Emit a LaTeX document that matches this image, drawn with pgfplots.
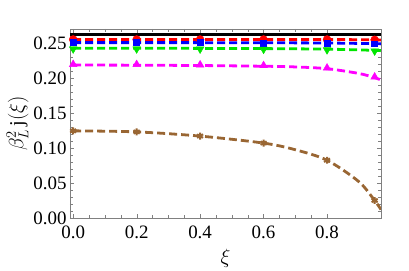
\documentclass[border=0pt]{standalone}
\usepackage{fontspec}
\setmainfont{Liberation Serif}
\usepackage{pgfplots}
\pgfplotsset{compat=1.18}
\usetikzlibrary{plotmarks}
\definecolor{mbrown}{rgb}{0.6,0.4,0.2}
\definecolor{mgreen}{rgb}{0,0.9,0}
\definecolor{mmag}{rgb}{1,0,1}
\definecolor{mred}{rgb}{1,0,0}
\definecolor{mblue}{rgb}{0,0,1}
\tikzset{dl/.style={line width=2.8pt, dash pattern=on 8bp off 4bp, smooth, no marks}}
\begin{document}
\begin{tikzpicture}
\begin{axis}[
  scale only axis, width=311bp, height=189bp,
  xmin=-0.01, xmax=0.97, ymin=0, ymax=0.27,
  axis line style={gray}, tick style={gray},
  tick align=inside, xtick={0,0.2,0.4,0.6,0.8}, ytick={0,0.05,0.1,0.15,0.2,0.25},
  minor x tick num=3, minor y tick num=4,
  xticklabel style={/pgf/number format/fixed,/pgf/number format/fixed zerofill,/pgf/number format/precision=1, yshift=-4bp},
  yticklabel style={/pgf/number format/fixed,/pgf/number format/fixed zerofill,/pgf/number format/precision=2},
  /pgf/number format/assume math mode=true,
  ticklabel style={font=\fontsize{19}{22}\selectfont},
  label style={font=\fontsize{20}{22}\selectfont},
  xlabel={$\xi$}, ylabel={$\beta_L^2\,$j$(\xi)$},
  xlabel style={yshift=-4bp}, ylabel style={yshift=-2bp},
  clip=true,
]
\addplot[black, solid, line width=2.6pt, no marks] coordinates {(-0.01,0.262) (0.97,0.262)};
% smooth curves
\addplot[mred, dl] coordinates {(0,0.255) (0.2,0.255) (0.4,0.255) (0.6,0.255) (0.8,0.255) (0.95,0.2545) (0.97,0.2543)};
\addplot[mblue, dl] coordinates {(0,0.2505) (0.2,0.2505) (0.4,0.2505) (0.6,0.2503) (0.8,0.2500) (0.95,0.2490) (0.97,0.2487)};
\addplot[mgreen, dl] coordinates {(0,0.2425) (0.2,0.2425) (0.4,0.2423) (0.6,0.2420) (0.8,0.2412) (0.95,0.2395) (0.97,0.2390)};
\addplot[mmag, dl] coordinates {(0,0.2185) (0.2,0.2183) (0.4,0.2178) (0.6,0.2168) (0.7,0.2158) (0.8,0.2133) (0.9,0.2065) (0.95,0.2005) (0.97,0.197)};
\addplot[mbrown, dl] coordinates {(0,0.1245) (0.2,0.1230) (0.4,0.1170) (0.6,0.1070) (0.7,0.0975) (0.8,0.0825) (0.9,0.0520) (0.95,0.0250) (0.97,0.0120)};
% marks
\addplot[only marks, mark=*, mred, mark size=4pt] coordinates {(0,0.255) (0.2,0.255) (0.4,0.255) (0.6,0.255) (0.8,0.255) (0.95,0.2545)};
\addplot[only marks, mark=square*, mblue, mark size=3pt] coordinates {(0,0.2505) (0.2,0.2505) (0.4,0.2505) (0.6,0.2503) (0.8,0.2500) (0.95,0.2490)};
\addplot[only marks, mark=triangle*, mark options={rotate=180}, mgreen, mark size=4.5pt] coordinates {(0,0.2415) (0.2,0.2415) (0.4,0.2413) (0.6,0.2410) (0.8,0.2402) (0.95,0.2385)};
\addplot[only marks, mark=triangle*, mmag, mark size=4.5pt] coordinates {(0,0.2195) (0.2,0.2193) (0.4,0.2188) (0.6,0.2178) (0.8,0.2143) (0.95,0.2015)};
\addplot[only marks, mark=asterisk, mbrown, mark size=3.5pt, line width=2pt] coordinates {(0,0.1245) (0.2,0.1230) (0.4,0.1170) (0.6,0.1070) (0.8,0.0825) (0.95,0.0250)};
\end{axis}
\useasboundingbox (current axis.south west) ++(-70bp,-52bp) rectangle ++(409bp,270bp);
\end{tikzpicture}
\end{document}
